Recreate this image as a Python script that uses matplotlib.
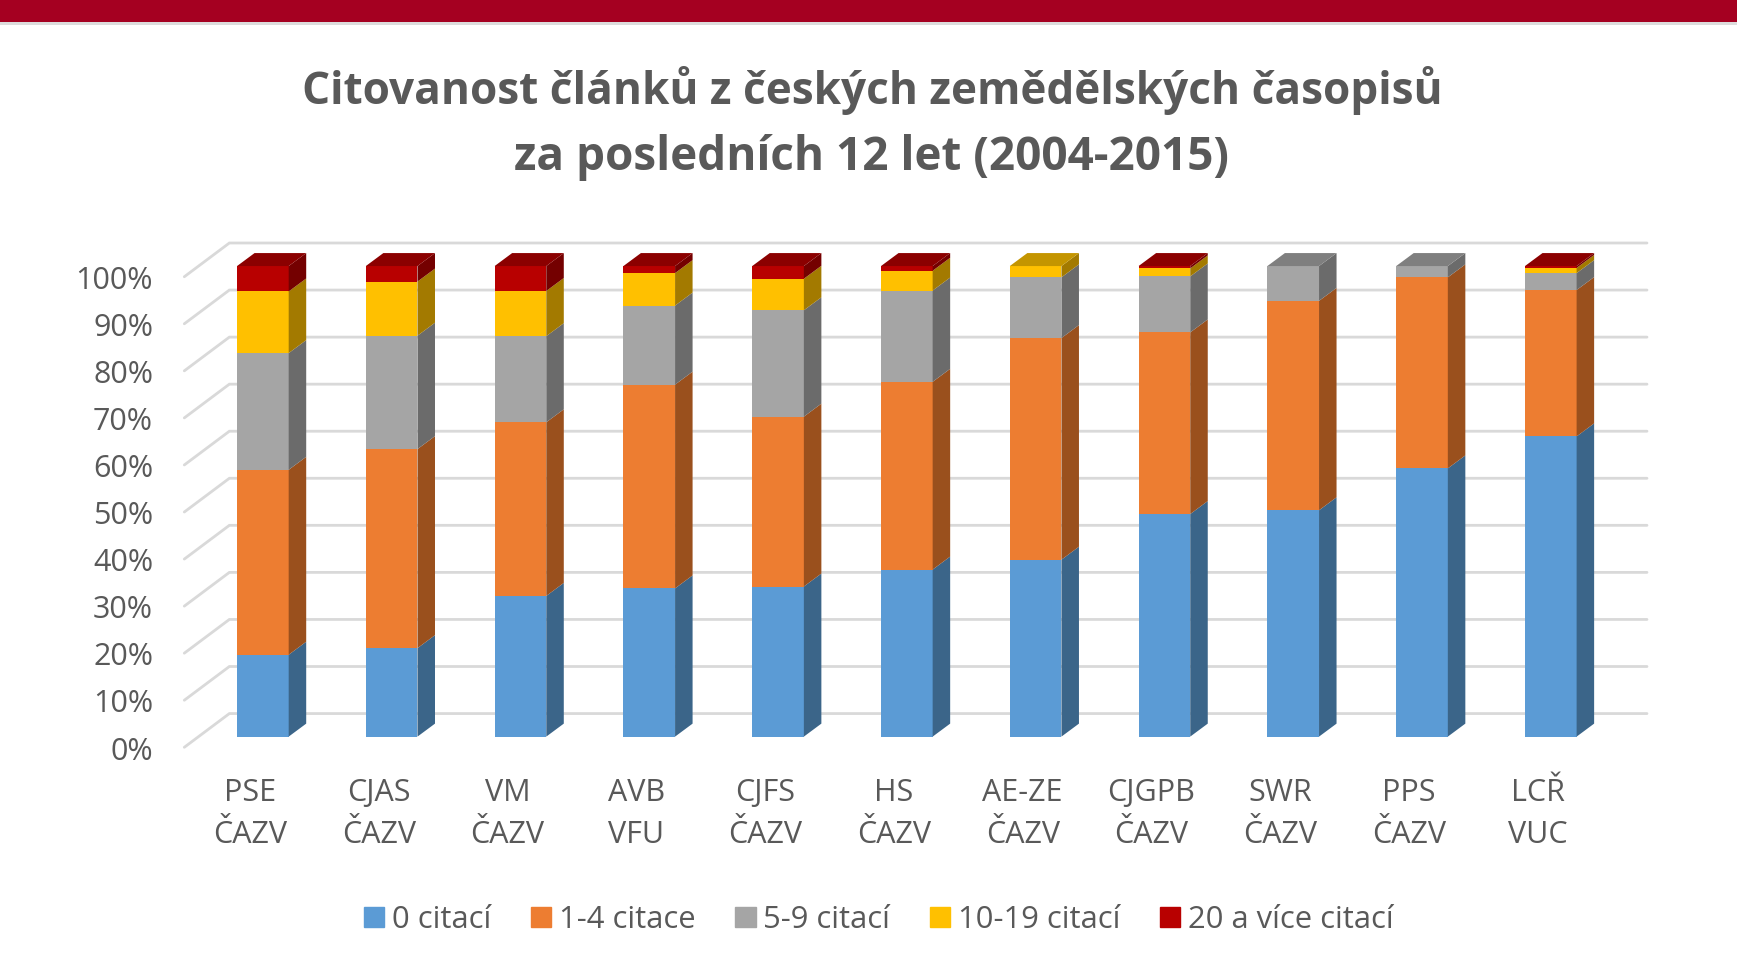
import matplotlib
matplotlib.use('Agg')
import matplotlib.pyplot as plt
from matplotlib.patches import Rectangle

plt.rcParams['font.family'] = ['Open Sans', 'DejaVu Sans']

labels = ['PSE\nČAZV', 'CJAS\nČAZV', 'VM\nČAZV', 'AVB\nVFU', 'CJFS\nČAZV', 'HS\nČAZV',
          'AE-ZE\nČAZV', 'CJGPB\nČAZV', 'SWR\nČAZV', 'PPS\nČAZV', 'LCŘ\nVUC']
series_names = ['0 citací', '1-4 citace', '5-9 citací', '10-19 citací', '20 a více citací']

# percent share of each citation class
zero = [17.4, 18.8, 29.9, 31.5, 31.9, 35.5, 37.6, 47.3, 48.1, 57.0, 63.8]
one_four = [39.3, 42.3, 36.9, 43.3, 36.1, 39.9, 47.1, 38.6, 44.5, 40.6, 31.1]
five_nine = [24.8, 24.1, 18.3, 16.8, 22.6, 19.4, 12.9, 11.9, 7.4, 2.4, 3.6]
ten_nineteen = [13.1, 11.5, 9.6, 6.9, 6.7, 4.2, 2.4, 1.7, 0, 0, 1.1]
twenty_plus = [5.4, 3.3, 5.3, 1.5, 2.7, 1.0, 0, 0.5, 0, 0, 0.4]
series = [zero, one_four, five_nine, ten_nineteen, twenty_plus]

front_cols = ['#5b9bd5', '#ed7d31', '#a5a5a5', '#ffc000', '#b80000']
side_cols = ['#3b6589', '#9a501d', '#6b6b6b', '#a37a00', '#740000']
top_cols = ['#4a7dab', '#c0652a', '#7f7f7f', '#c49500', '#8b0000']
text_col = '#595959'
grid_col = '#d9d9d9'

W, H = 1737, 960
fig = plt.figure(figsize=(W / 100, H / 100), dpi=100)

# plot box in pixels, the axis limits make it line up with the 3d floor and walls
left, right, bottom, top = 184.3, 1647, 748, 243
ax = fig.add_axes([left / W, 1 - bottom / H, (right - left) / W, (bottom - top) / H])
x_floor, x_back, x_end = -0.61, -0.26, 10.747
y_floor, y_back = -2.27, 104.9
ax.set_xlim(x_floor, x_end)
ax.set_ylim(y_floor, y_back)

# grid lines run along the left wall and then the back wall
yvals = list(range(0, 101, 10))
for v in yvals:
    ax.plot([x_floor, x_back, x_end], [v + y_floor, v + y_back - 100, v + y_back - 100],
            color=grid_col, lw=2.0, solid_capstyle='round', solid_joinstyle='miter', zorder=1, clip_on=False)

bar_w = 0.401
dx, dy = 0.136, 2.76
for i in range(len(labels)):
    x0 = i - bar_w / 2
    x1 = i + bar_w / 2
    base = 0
    top_k = 0
    for k, s in enumerate(series):
        val = s[i]
        if val == 0:
            continue
        ax.bar(i, val, bar_w, bottom=base, color=front_cols[k], zorder=3)
        ax.fill([x1, x1 + dx, x1 + dx, x1], [base, base + dy, base + val + dy, base + val],
                color=side_cols[k], lw=0, zorder=3)
        base += val
        top_k = k
    ax.fill([x0, x1, x1 + dx, x0 + dx], [base, base, base + dy, base + dy],
            color=top_cols[top_k], lw=0, zorder=3)

ax.set_yticks([v + y_floor - 0.15 for v in yvals])
ax.set_yticklabels(['%d%%' % v for v in yvals], color=text_col, fontsize=22)
ax.set_xticks([i - 0.1 for i in range(len(labels))])
ax.set_xticklabels(labels, color=text_col, fontsize=22, linespacing=1.52)
ax.tick_params(axis='both', length=0)
ax.tick_params(axis='x', pad=21.3)
ax.tick_params(axis='y', pad=22.5)
for sp in ax.spines.values():
    sp.set_visible(False)

handles = [Rectangle((0, 0), 1, 1, color=c) for c in front_cols]
fig.legend(handles, series_names, loc='center', bbox_to_anchor=(0.506, 1 - 920 / H), ncol=5, frameon=False,
           fontsize=22.3, labelcolor=text_col, handlelength=0.65, handleheight=0.65,
           handletextpad=0.25, columnspacing=1.285)

fig.text(0.502, 1 - 90.5 / H, 'Citovanost článků z českých zemědělských časopisů', ha='center', va='center',
         fontsize=31.8, fontweight='bold', color=text_col)
fig.text(0.502, 1 - 157.5 / H, 'za posledních 12 let (2004-2015)', ha='center', va='center',
         fontsize=33, fontweight='bold', color=text_col)

# red band across the top of the slide, thin grey shadow under it
fig.add_artist(Rectangle((0, 1 - 24.5 / H), 1, 2.8 / H, transform=fig.transFigure, color='#dcdcdc', lw=0))
fig.add_artist(Rectangle((0, 1 - 21.7 / H), 1, 21.7 / H, transform=fig.transFigure, color='#a50021', lw=0))

fig.savefig('out.png', dpi=100)
